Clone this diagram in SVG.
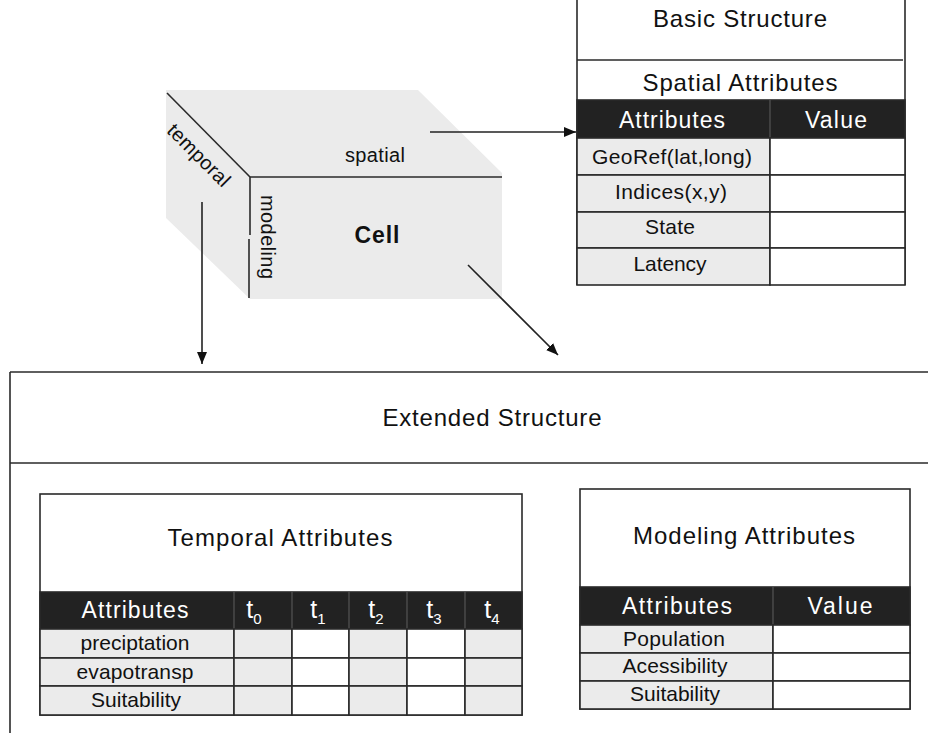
<svg xmlns="http://www.w3.org/2000/svg" width="928" height="733" viewBox="0 0 928 733">
<style>
text{font-family:"Liberation Sans",Arial,sans-serif;fill:#111}
.t{font-size:24px}
.r{font-size:21px}
.h{font-size:23px;fill:#fff}
.c{font-size:20px}
.ln{stroke:#2a2a2a;stroke-width:1.6;fill:none}
.g{fill:#ebebeb;stroke:#2a2a2a;stroke-width:1.6}
.w{fill:#fff;stroke:#2a2a2a;stroke-width:1.6}
.d{fill:#222;stroke:#2a2a2a;stroke-width:1.6}
.ar{stroke:#222;stroke-width:1.6;fill:none;marker-end:url(#ah)}
</style>
<defs>
<marker id="ah" markerUnits="userSpaceOnUse" markerWidth="14" markerHeight="12" refX="12" refY="6" orient="auto">
<path d="M0,1 L12,6 L0,11 z" fill="#111"/>
</marker>
</defs>
<rect width="928" height="733" fill="#fff"/>

<g id="cell">
<polygon points="166,90 418,90 502,173 502,299 250,299 166,218" fill="#ebebeb"/>
<line class="ln" x1="167" y1="93" x2="250" y2="177"/>
<line class="ln" x1="250" y1="177" x2="502" y2="177"/>
<line class="ln" x1="250" y1="177" x2="250" y2="235"/>
<line class="ln" x1="249" y1="239" x2="249" y2="298"/>
<text class="c" x="375" y="162" text-anchor="middle" textLength="60" lengthAdjust="spacing">spatial</text>
<text x="377" y="243" text-anchor="middle" style="font-size:23px;font-weight:bold" textLength="45" lengthAdjust="spacing">Cell</text>
<text class="c" transform="translate(268,237) rotate(90)" x="0" y="7" text-anchor="middle" textLength="84" lengthAdjust="spacing">modeling</text>
<text class="c" transform="translate(199,155) rotate(45)" x="0" y="7" text-anchor="middle" textLength="80" lengthAdjust="spacing">temporal</text>
</g>

<g id="basic-structure">
<line class="ln" x1="577" y1="0" x2="577" y2="285"/>
<line class="ln" x1="905" y1="0" x2="905" y2="285"/>
<line class="ln" x1="577" y1="60" x2="903" y2="60"/>
<text class="t" x="740" y="27" text-anchor="middle" textLength="174" lengthAdjust="spacing">Basic Structure</text>
<text class="t" x="740" y="91" text-anchor="middle" textLength="195" lengthAdjust="spacing">Spatial Attributes</text>
<rect class="d" x="577" y="100" width="328" height="38"/>
<line x1="770" y1="100" x2="770" y2="138" stroke="#555" stroke-width="1.2"/>
<text class="h" x="672" y="128" text-anchor="middle" textLength="106" lengthAdjust="spacing">Attributes</text>
<text class="h" x="836" y="128" text-anchor="middle" textLength="62" lengthAdjust="spacing">Value</text>
<rect class="g" x="577" y="138" width="193" height="37"/><rect class="w" x="770" y="138" width="135" height="37"/>
<rect class="g" x="577" y="175" width="193" height="37"/><rect class="w" x="770" y="175" width="135" height="37"/>
<rect class="g" x="577" y="212" width="193" height="36"/><rect class="w" x="770" y="212" width="135" height="36"/>
<rect class="g" x="577" y="248" width="193" height="37"/><rect class="w" x="770" y="248" width="135" height="37"/>
<text class="r" x="672" y="164" text-anchor="middle" textLength="160" lengthAdjust="spacing">GeoRef(lat,long)</text>
<text class="r" x="671" y="199" text-anchor="middle" textLength="112" lengthAdjust="spacing">Indices(x,y)</text>
<text class="r" x="670" y="234" text-anchor="middle" textLength="50" lengthAdjust="spacing">State</text>
<text class="r" x="670" y="271" text-anchor="middle" textLength="73" lengthAdjust="spacing">Latency</text>
</g>

<g id="extended-structure">
<line class="ln" x1="10" y1="372" x2="928" y2="372"/>
<line class="ln" x1="10" y1="463" x2="928" y2="463"/>
<line class="ln" x1="10" y1="372" x2="10" y2="733"/>
<text class="t" x="492" y="426" text-anchor="middle" textLength="219" lengthAdjust="spacing">Extended Structure</text>
</g>

<g id="temporal-attributes">
<rect class="w" x="40" y="494" width="482" height="221"/>
<text class="t" x="280" y="546" text-anchor="middle" textLength="225" lengthAdjust="spacing">Temporal Attributes</text>
<rect class="d" x="40" y="592" width="482" height="37"/>
<g stroke="#555" stroke-width="1.2">
<line x1="234" y1="592" x2="234" y2="629"/><line x1="292" y1="592" x2="292" y2="629"/><line x1="349" y1="592" x2="349" y2="629"/><line x1="407" y1="592" x2="407" y2="629"/><line x1="465" y1="592" x2="465" y2="629"/>
</g>
<text class="h" x="135" y="618" text-anchor="middle" textLength="107" lengthAdjust="spacing">Attributes</text>
<text class="h" x="254" y="618" text-anchor="middle" style="font-size:25px">t<tspan dy="6" style="font-size:15px;fill:#fff">0</tspan></text>
<text class="h" x="318" y="618" text-anchor="middle" style="font-size:25px">t<tspan dy="6" style="font-size:15px;fill:#fff">1</tspan></text>
<text class="h" x="376" y="618" text-anchor="middle" style="font-size:25px">t<tspan dy="6" style="font-size:15px;fill:#fff">2</tspan></text>
<text class="h" x="434" y="618" text-anchor="middle" style="font-size:25px">t<tspan dy="6" style="font-size:15px;fill:#fff">3</tspan></text>
<text class="h" x="492" y="618" text-anchor="middle" style="font-size:25px">t<tspan dy="6" style="font-size:15px;fill:#fff">4</tspan></text>
<g>
<rect class="g" x="40" y="629" width="194" height="29"/><rect class="g" x="234" y="629" width="58" height="29"/><rect class="w" x="292" y="629" width="57" height="29"/><rect class="g" x="349" y="629" width="58" height="29"/><rect class="w" x="407" y="629" width="58" height="29"/><rect class="g" x="465" y="629" width="57" height="29"/>
<rect class="g" x="40" y="658" width="194" height="28"/><rect class="g" x="234" y="658" width="58" height="28"/><rect class="w" x="292" y="658" width="57" height="28"/><rect class="g" x="349" y="658" width="58" height="28"/><rect class="w" x="407" y="658" width="58" height="28"/><rect class="g" x="465" y="658" width="57" height="28"/>
<rect class="g" x="40" y="686" width="194" height="29"/><rect class="g" x="234" y="686" width="58" height="29"/><rect class="w" x="292" y="686" width="57" height="29"/><rect class="g" x="349" y="686" width="58" height="29"/><rect class="w" x="407" y="686" width="58" height="29"/><rect class="g" x="465" y="686" width="57" height="29"/>
</g>
<text class="r" x="135" y="650" text-anchor="middle" textLength="109" lengthAdjust="spacing">preciptation</text>
<text class="r" x="135" y="679" text-anchor="middle" textLength="117" lengthAdjust="spacing">evapotransp</text>
<text class="r" x="136" y="707" text-anchor="middle" textLength="90" lengthAdjust="spacing">Suitability</text>
</g>

<g id="modeling-attributes">
<rect class="w" x="580" y="489" width="330" height="220"/>
<text class="t" x="744" y="544" text-anchor="middle" textLength="222" lengthAdjust="spacing">Modeling Attributes</text>
<rect class="d" x="580" y="587" width="330" height="38"/>
<line x1="773" y1="587" x2="773" y2="625" stroke="#555" stroke-width="1.2"/>
<text class="h" x="677" y="614" text-anchor="middle" textLength="110" lengthAdjust="spacing">Attributes</text>
<text class="h" x="840" y="614" text-anchor="middle" textLength="65" lengthAdjust="spacing">Value</text>
<rect class="g" x="580" y="625" width="193" height="28"/><rect class="w" x="773" y="625" width="137" height="28"/>
<rect class="g" x="580" y="653" width="193" height="28"/><rect class="w" x="773" y="653" width="137" height="28"/>
<rect class="g" x="580" y="681" width="193" height="28"/><rect class="w" x="773" y="681" width="137" height="28"/>
<text class="r" x="674" y="646" text-anchor="middle" textLength="102" lengthAdjust="spacing">Population</text>
<text class="r" x="675" y="673" text-anchor="middle" textLength="105" lengthAdjust="spacing">Acessibility</text>
<text class="r" x="675" y="701" text-anchor="middle" textLength="90" lengthAdjust="spacing">Suitability</text>
</g>

<g id="connectors">
<line class="ar" x1="430" y1="132" x2="576" y2="132"/>
<line class="ar" x1="202" y1="202" x2="202" y2="364"/>
<line class="ar" x1="468" y1="265" x2="558" y2="355"/>
</g>
</svg>
